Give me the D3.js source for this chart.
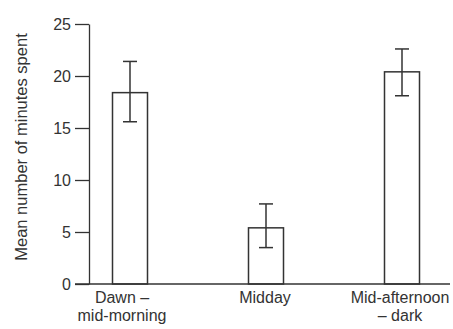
<!DOCTYPE html>
<html>
<head>
<meta charset="utf-8">
<script src="https://cdn.jsdelivr.net/npm/d3@7"></script>
<style>
  body { margin: 0; background: #fff; }
  svg { display: block; font-family: Arial, "Liberation Sans", sans-serif; }
</style>
</head>
<body>
<svg width="453" height="329"></svg>
<script>
const categories = [['Dawn –', 'mid-morning'], ['Midday'], ['Mid-afternoon', '– dark']];
const means = [18.4, 5.4, 20.4];
const errLow = [15.6, 3.5, 18.1];
const errHigh = [21.4, 7.7, 22.6];
const yTicks = [0, 5, 10, 15, 20, 25];

const ink = '#333';
const svg = d3.select('svg');
const keys = categories.map((c) => c.join(' '));

const xScale = d3.scalePoint()
  .domain(keys)
  .range([130, 402]);

const yScale = d3.scaleLinear()
  .domain([0, 25])
  .range([284, 24]);

const barWidth = 35;
const capWidth = 14;
// the first label sits a little left of its bar in the original
const labelShift = [-8, -1, -2];

// y axis
const yAxis = svg.append('g')
  .attr('transform', 'translate(89, 0)')
  .call(d3.axisLeft(yScale).tickValues(yTicks).tickSize(14).tickPadding(4).tickSizeOuter(0));
yAxis.select('.domain').attr('stroke', ink).attr('stroke-width', 1.3);
yAxis.selectAll('.tick line').attr('stroke', ink).attr('stroke-width', 1.3);
yAxis.selectAll('.tick text').attr('fill', ink).attr('font-size', '16px');

// baseline
svg.append('line')
  .attr('x1', 75).attr('x2', 450)
  .attr('y1', yScale(0)).attr('y2', yScale(0))
  .attr('stroke', ink).attr('stroke-width', 1.3);

// bars
svg.selectAll('rect.bar')
  .data(means)
  .enter()
  .append('rect')
  .attr('class', 'bar')
  .attr('x', (d, i) => xScale(keys[i]) - barWidth / 2)
  .attr('y', (d) => yScale(d))
  .attr('width', barWidth)
  .attr('height', (d) => yScale(0) - yScale(d))
  .attr('fill', 'none')
  .attr('stroke', ink)
  .attr('stroke-width', 1.5);

// error bars
const err = svg.selectAll('g.err')
  .data(means)
  .enter()
  .append('g')
  .attr('class', 'err')
  .attr('stroke', ink)
  .attr('stroke-width', 1.5);

err.append('line')
  .attr('x1', (d, i) => xScale(keys[i]))
  .attr('x2', (d, i) => xScale(keys[i]))
  .attr('y1', (d, i) => yScale(errLow[i]))
  .attr('y2', (d, i) => yScale(errHigh[i]));
err.append('line')
  .attr('x1', (d, i) => xScale(keys[i]) - capWidth / 2)
  .attr('x2', (d, i) => xScale(keys[i]) + capWidth / 2)
  .attr('y1', (d, i) => yScale(errHigh[i]))
  .attr('y2', (d, i) => yScale(errHigh[i]));
err.append('line')
  .attr('x1', (d, i) => xScale(keys[i]) - capWidth / 2)
  .attr('x2', (d, i) => xScale(keys[i]) + capWidth / 2)
  .attr('y1', (d, i) => yScale(errLow[i]))
  .attr('y2', (d, i) => yScale(errLow[i]));

// category labels
categories.forEach((lines, i) => {
  const t = svg.append('text')
    .attr('text-anchor', 'middle')
    .attr('fill', ink)
    .attr('font-size', '16px');
  lines.forEach((line, j) => {
    t.append('tspan')
      .attr('x', xScale(keys[i]) + labelShift[i])
      .attr('y', 303 + j * 18)
      .text(line);
  });
});

// y axis label
svg.append('text')
  .attr('transform', 'translate(27, 147) rotate(-90)')
  .attr('text-anchor', 'middle')
  .attr('fill', ink)
  .attr('font-size', '16.5px')
  .text('Mean number of minutes spent');
</script>
</body>
</html>
